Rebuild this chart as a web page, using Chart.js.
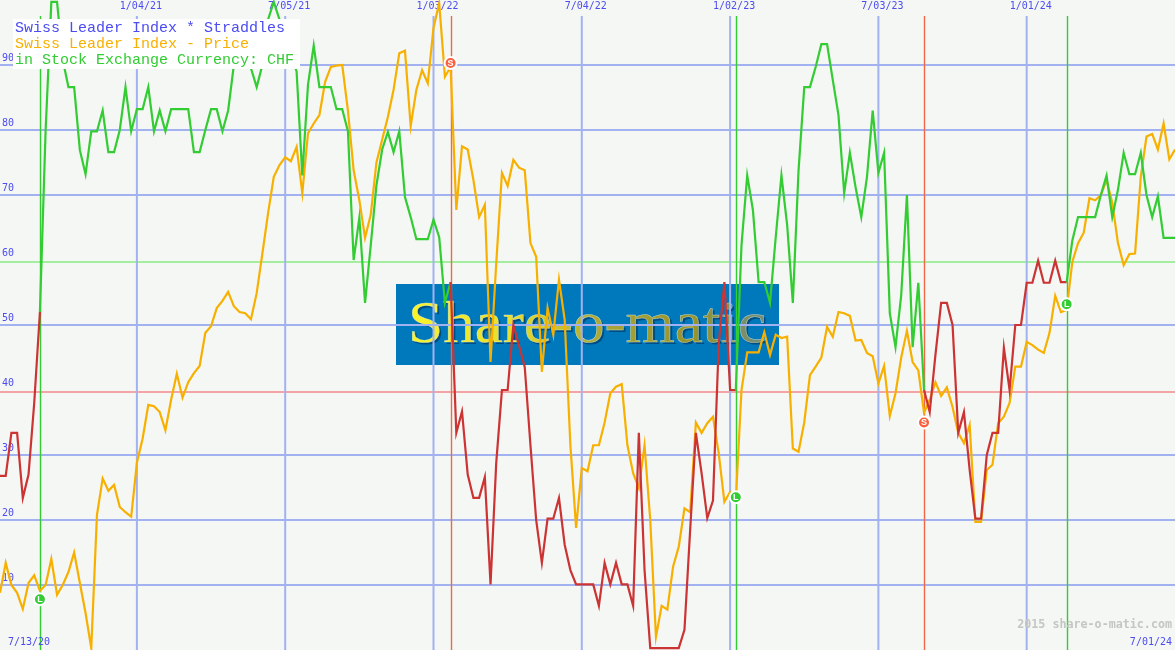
<!DOCTYPE html>
<html>
<head>
<meta charset="utf-8">
<title>Swiss Leader Index * Straddles</title>
<script src="https://cdn.jsdelivr.net/npm/chart.js@4"></script>
<style>
  html, body { margin: 0; padding: 0; background: #f4f7f4; }
  canvas { display: block; }
</style>
</head>
<body>
<canvas id="chart" width="1175" height="650"></canvas>
<script>
// weekly values, index = week number on the x axis
const straddle = [
  26.8, 26.8, 33.4, 33.4, 23.4, 27, 38, 52, 80, 99.7,
  99.7, 90.8, 86.6, 86.6, 76.9, 73.2, 79.8, 79.8, 83, 76.6,
  76.6, 80, 86.6, 79.8, 83.2, 83.2, 86.6, 79.8, 83, 79.8,
  83.2, 83.2, 83.2, 83.2, 76.6, 76.6, 80, 83.2, 83.2, 79.8,
  83, 90, 93, 92, 89.5, 86.6, 90, 97, 99.7, 97,
  93, 91.5, 89, 73, 87, 93, 86.6, 86.6, 86.6, 83.2,
  83.2, 79.8, 60, 66.5, 53.4, 62.3, 71.5, 77, 79.7, 76.6,
  79.8, 69.7, 66.6, 63.2, 63.2, 63.2, 66.2, 63.5, 53.4, 56.6,
  33.4, 36.7, 27, 23.4, 23.4, 26.6, 10.1, 28.8, 40, 40,
  50, 46.8, 43.5, 31.5, 20, 13.4, 20.2, 20.2, 23.4, 16.2,
  12.3, 10.1, 10.1, 10.1, 10.1, 6.8, 13.4, 10.1, 13.4, 10.1,
  10.1, 6.8, 33.4, 12.3, 0.3, 0.3, 0.3, 0.3, 0.3, 0.3,
  3.1, 18.5, 33.4, 27.2, 20.3, 23, 47, 56.6, 40, 40,
  62.3, 73, 67.7, 56.6, 56.6, 53.4, 63.5, 73, 65.4, 53.4,
  73.8, 86.6, 86.6, 89.7, 93.2, 93.2, 87.7, 82.3, 70.3, 76.5,
  71.2, 66.6, 72.8, 83, 73.4, 76.5, 51.8, 46.6, 54.6, 70,
  46.6, 56.5, 40, 36.6, 45.4, 53.4, 53.4, 50, 33.4, 36.6,
  27.7, 20.2, 20.2, 30, 33.4, 33.4, 46.5, 40, 50, 50,
  56.5, 56.5, 59.9, 56.5, 56.5, 59.9, 56.6, 56.6, 63, 66.6,
  66.6, 66.6, 66.6, 70, 73, 66.6, 70.8, 76.5, 73.2, 73.2,
  76.5, 70, 66.6, 69.8, 63.4, 63.4, 63.4
];
const price = [
  8.8, 13.4, 10, 8.8, 6.3, 10.3, 11.5, 9.1, 10, 14,
  8.5, 10, 12, 15, 10.3, 5.7, 0.3, 20.8, 26.4, 24.5,
  25.4, 22, 21.2, 20.5, 28.8, 32.5, 37.7, 37.5, 36.6, 33.8,
  38.5, 42.5, 38.8, 41.2, 42.6, 43.7, 48.8, 49.8, 52.6, 53.7,
  55.1, 52.9, 52, 51.8, 50.9, 54.9, 61, 67.2, 72.8, 74.6,
  75.8, 75.2, 77.4, 70.3, 79.5, 81, 82.3, 87.4, 89.7, 89.9,
  90, 83, 73.8, 69.2, 63.4, 67, 75, 78.5, 82, 86.2,
  91.8, 92.2, 80.6, 86.2, 89.2, 87.2, 95.7, 99.5, 88.2, 89.7,
  67.7, 77.5, 77, 72.3, 66.6, 68.5, 44.3, 59.5, 73.4, 71.4,
  75.4, 74.2, 73.8, 62.6, 60.5, 42.8, 52.6, 48.5, 57, 50.8,
  31.5, 18.8, 28, 27.5, 31.5, 31.5, 35, 39.5, 40.5, 40.9,
  31.5, 27.2, 24.9, 31.5, 20, 2, 6.8, 6.2, 12.8, 15.9,
  21.8, 21.2, 35, 33.4, 34.9, 35.9, 30.3, 22.8, 24.3, 23,
  40, 45.8, 45.8, 45.8, 48.9, 45.4, 48.5, 48, 48.2, 31,
  30.5, 35, 42.3, 43.6, 45, 49.7, 48.2, 52, 51.8, 51.4,
  47.6, 47.7, 45.7, 45.2, 41, 43.7, 36, 39.5, 45, 49.1,
  44.3, 43, 36.5, 38.5, 41.2, 39.1, 40.4, 37.4, 33.4, 31.8,
  34.6, 19.7, 19.7, 27.7, 28.5, 34.9, 35.9, 38, 43.6, 43.6,
  47.4, 46.9, 46.2, 45.7, 48.8, 54.5, 52, 52.3, 59.7, 62.6,
  64.2, 69.5, 69.2, 70, 72.3, 68.8, 62.6, 59.2, 60.9, 61,
  72.8, 79, 79.4, 77, 81, 75.5, 77
];

// long / short signals
const signalWeeks = [7, 79, 129, 162, 187];
const signalTypes = ["L", "S", "L", "S", "L"];
const signalValues = [7.8, 90.3, 23.5, 35, 53.2];

const xTickWeeks = [24, 50, 76, 102, 128, 154, 180];
const xTickLabels = ["1/04/21", "7/05/21", "1/03/22", "7/04/22", "1/02/23", "7/03/23", "1/01/24"];
const yTickValues = [10, 20, 30, 40, 50, 60, 70, 80, 90];
const firstDate = "7/13/20";
const lastDate = "7/01/24";
const upperLevel = 59.7;
const lowerLevel = 39.7;

const BLUE = "#4c4cf0";
const ORANGE = "#f8b000";
const GREEN = "#33cc33";
const RED = "#cc3333";
const GRID = "#a2b2f0";
const SIGNAL_RED = "#f06848";
const TICK_FONT = "DejaVu Sans Mono";

// the line is green while long, red while short
function stateColor(week) {
  let color = RED;
  signalWeeks.forEach((w, i) => {
    if (w <= week) color = signalTypes[i] === "L" ? GREEN : RED;
  });
  return color;
}

function toPoints(values) {
  return values.map((v, i) => ({ x: i, y: v }));
}

// logo sits under the grid, so it goes in beforeDraw
function drawLogo(ctx) {
  ctx.save();
  ctx.fillStyle = "#0078bc";
  ctx.fillRect(396, 284, 383, 81);
  ctx.font = "60px 'Liberation Serif'";
  const scaleX = 358 / ctx.measureText("Share-o-matic").width;
  ctx.translate(408, 342);
  ctx.scale(scaleX, 1);
  ctx.fillStyle = "rgba(0, 50, 90, 0.6)";
  ctx.fillText("Share-o-matic", 2, 2);
  const grad = ctx.createLinearGradient(0, 0, 358 / scaleX, 0);
  grad.addColorStop(0, "#fbf52a");
  grad.addColorStop(0.3, "#e4dc30");
  grad.addColorStop(0.55, "#a8a438");
  grad.addColorStop(0.8, "#98942c");
  grad.addColorStop(1, "#708c80");
  ctx.fillStyle = grad;
  ctx.fillText("Share-o-matic", 0, 0);
  ctx.lineWidth = 0.5;
  ctx.strokeStyle = "rgba(225, 240, 220, 0.7)";
  ctx.strokeText("Share-o-matic", 0, 0);
  ctx.restore();
}

const sketchPlugin = {
  id: "sketch",
  beforeDraw(chart) {
    const ctx = chart.ctx;
    ctx.fillStyle = "#f4f7f4";
    ctx.fillRect(0, 0, chart.width, chart.height);
    drawLogo(ctx);
  },
  beforeDatasetsDraw(chart) {
    const ctx = chart.ctx;
    const x = chart.scales.x;
    const y = chart.scales.y;
    const bottom = chart.chartArea.bottom;

    ctx.save();
    // level lines
    [[upperLevel, "#a4eea0"], [lowerLevel, "#f4a4a4"]].forEach(([level, color]) => {
      ctx.strokeStyle = color;
      ctx.lineWidth = 2;
      ctx.beginPath();
      ctx.moveTo(0, y.getPixelForValue(level));
      ctx.lineTo(chart.width, y.getPixelForValue(level));
      ctx.stroke();
    });
    // date lines stop below the date labels
    ctx.strokeStyle = GRID;
    ctx.lineWidth = 2;
    xTickWeeks.forEach((w) => {
      ctx.beginPath();
      ctx.moveTo(x.getPixelForValue(w), 16);
      ctx.lineTo(x.getPixelForValue(w), bottom);
      ctx.stroke();
    });
    signalWeeks.forEach((w, i) => {
      ctx.strokeStyle = signalTypes[i] === "L" ? GREEN : SIGNAL_RED;
      ctx.lineWidth = 1.4;
      const px = Math.round(x.getPixelForValue(w)) + 0.5;
      ctx.beginPath();
      ctx.moveTo(px, 16);
      ctx.lineTo(px, bottom);
      ctx.stroke();
    });
    ctx.restore();
  },
  afterDraw(chart) {
    const ctx = chart.ctx;
    const x = chart.scales.x;
    const y = chart.scales.y;
    ctx.save();

    // letters in the signal dots
    ctx.font = "bold 9px 'Liberation Sans'";
    ctx.fillStyle = "#ffffff";
    ctx.textAlign = "center";
    ctx.textBaseline = "middle";
    signalWeeks.forEach((w, i) => {
      ctx.fillText(signalTypes[i], x.getPixelForValue(w), y.getPixelForValue(signalValues[i]) + 0.5);
    });

    // legend box
    ctx.fillStyle = "#ffffff";
    ctx.fillRect(13, 19, 287, 50);
    ctx.textAlign = "left";
    ctx.font = "15px 'Liberation Mono'";
    ctx.fillStyle = BLUE;
    ctx.fillText("Swiss Leader Index * Straddles", 15, 28);
    ctx.fillStyle = ORANGE;
    ctx.fillText("Swiss Leader Index - Price", 15, 44);
    ctx.fillStyle = GREEN;
    ctx.fillText("in Stock Exchange Currency: CHF", 15, 60);

    // watermark and first/last date
    ctx.font = "bold 11.7px 'DejaVu Sans Mono'";
    ctx.fillStyle = "#c4c6c4";
    ctx.textAlign = "right";
    ctx.fillText("2015 share-o-matic.com", 1172, 625);
    ctx.font = "10px '" + TICK_FONT + "'";
    ctx.fillStyle = BLUE;
    ctx.fillText(lastDate, 1172, 642);
    ctx.textAlign = "left";
    ctx.fillText(firstDate, 8, 642);
    ctx.restore();
  }
};

// axes take no room: their labels sit inside the plot
function noRoom(scale) {
  scale.paddingLeft = 0;
  scale.paddingRight = 0;
  scale.paddingTop = 0;
  scale.paddingBottom = 0;
  if (scale.isHorizontal()) scale.height = 0;
  else scale.width = 0;
}

new Chart(document.getElementById("chart"), {
  type: "line",
  data: {
    datasets: [
      {
        label: "Signals",
        data: signalWeeks.map((w, i) => ({ x: w, y: signalValues[i] })),
        showLine: false,
        pointRadius: 6,
        pointBorderWidth: 2,
        pointBorderColor: "#ffffff",
        pointBackgroundColor: signalTypes.map((t) => (t === "L" ? GREEN : "#f86040"))
      },
      {
        label: "Swiss Leader Index * Straddles",
        data: toPoints(straddle),
        borderWidth: 2.2,
        pointRadius: 0,
        tension: 0,
        segment: { borderColor: (c) => stateColor(c.p0DataIndex) }
      },
      {
        label: "Swiss Leader Index - Price",
        data: toPoints(price),
        borderColor: ORANGE,
        borderWidth: 2.2,
        pointRadius: 0,
        tension: 0
      }
    ]
  },
  options: {
    responsive: false,
    animation: false,
    layout: { padding: 0, autoPadding: false },
    plugins: { legend: { display: false }, tooltip: { enabled: false } },
    scales: {
      x: {
        type: "linear",
        position: "top",
        min: 0,
        max: straddle.length - 1,
        afterBuildTicks: (scale) => { scale.ticks = xTickWeeks.map((v) => ({ value: v })); },
        afterFit: noRoom,
        border: { display: false },
        grid: { display: false },
        ticks: {
          mirror: true,
          padding: 0,
          maxRotation: 0,
          autoSkip: false,
          labelOffset: 4,
          color: BLUE,
          font: { family: TICK_FONT, size: 10 },
          callback: (v) => xTickLabels[xTickWeeks.indexOf(v)]
        }
      },
      y: {
        min: 0,
        max: 100,
        afterBuildTicks: (scale) => { scale.ticks = yTickValues.map((v) => ({ value: v })); },
        afterFit: noRoom,
        border: { display: false },
        // 40 and 60 carry the level lines instead
        grid: {
          color: (c) => (c.tick && (c.tick.value === 40 || c.tick.value === 60) ? "rgba(0,0,0,0)" : GRID),
          lineWidth: 2,
          drawTicks: false
        },
        ticks: {
          mirror: true,
          padding: 2,
          labelOffset: -7,
          color: BLUE,
          font: { family: TICK_FONT, size: 10 }
        }
      }
    }
  },
  plugins: [sketchPlugin]
});
</script>
</body>
</html>
